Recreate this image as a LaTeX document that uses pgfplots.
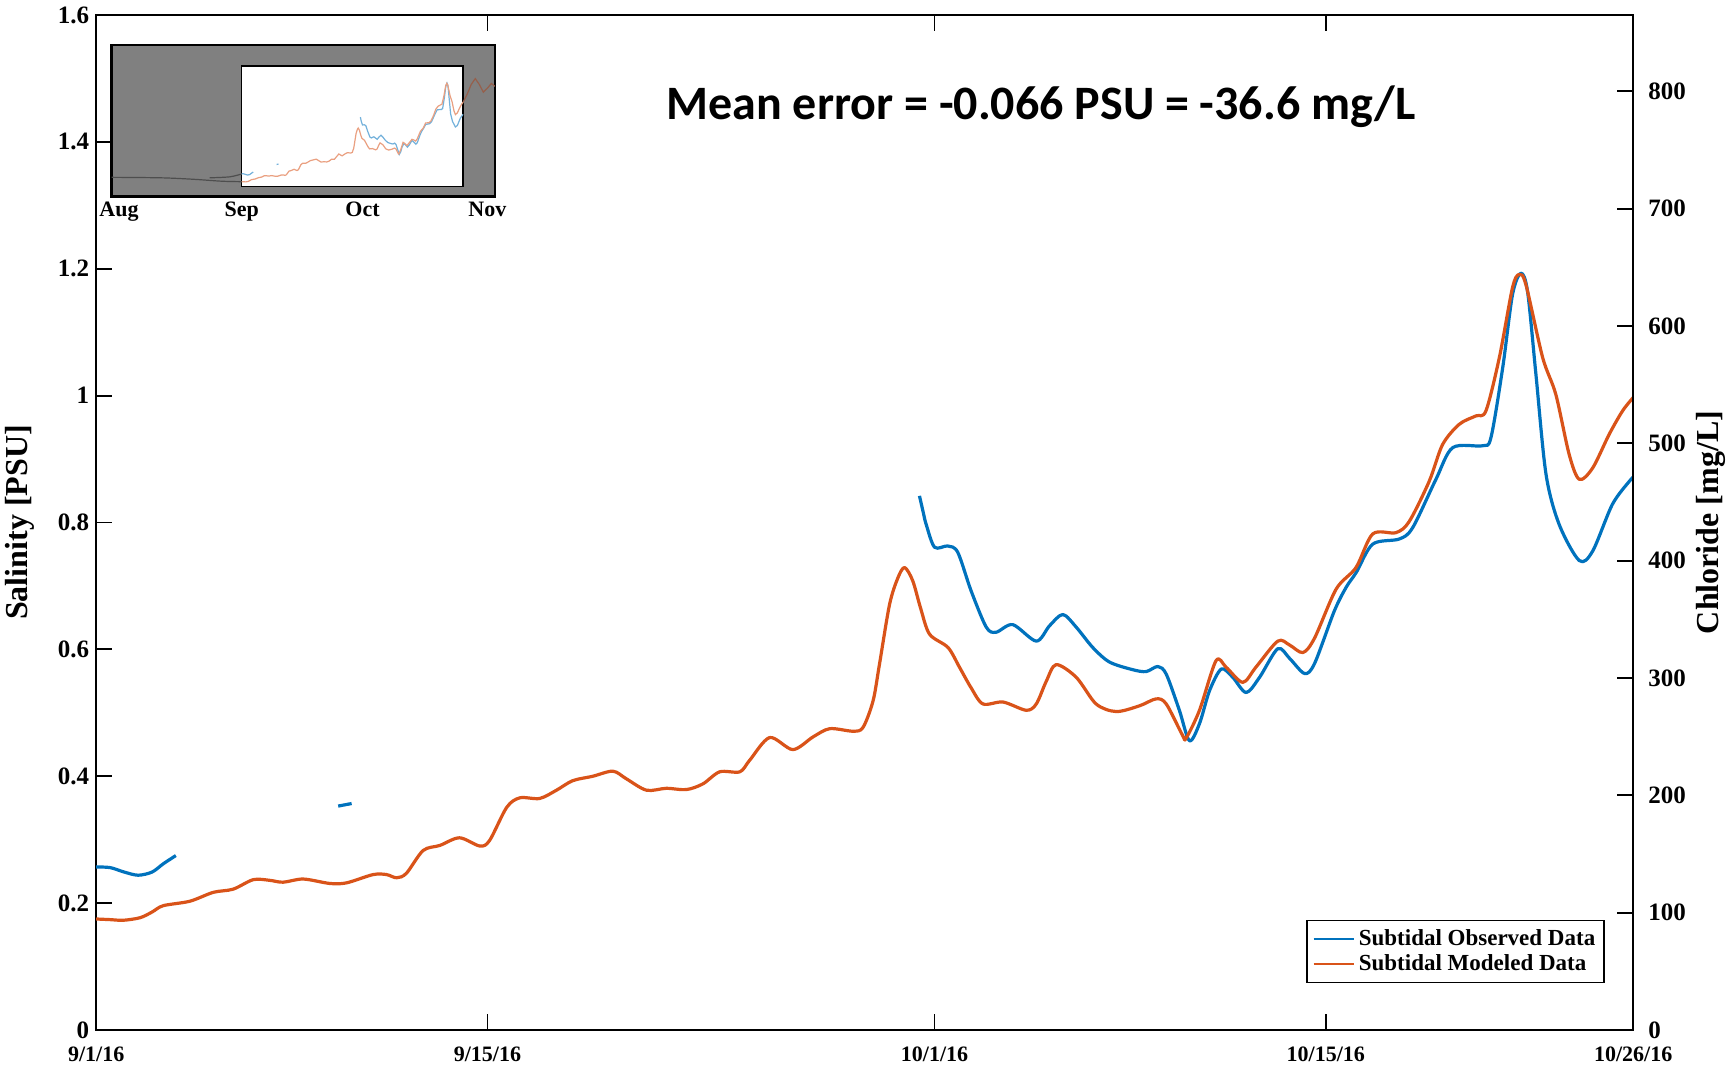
\documentclass[border=0pt]{standalone}
\usepackage{pgfplots}
\pgfplotsset{compat=1.18}
\usepackage{pgfplotstable}
\usepackage{fontspec}
\setmainfont{Liberation Serif}
\newfontfamily\calib{Carlito}

\definecolor{obsblue}{RGB}{0,114,189}
\definecolor{modorange}{RGB}{217,83,25}
\definecolor{insetgray}{RGB}{128,128,128}
\definecolor{shadedline}{RGB}{78,78,78}
\definecolor{shadedorange}{RGB}{150,95,75}

% day = days since 9/1/16, sal = salinity in PSU
\pgfplotstableread{
day sal
0.00 0.257
0.50 0.256
1.00 0.249
1.50 0.244
2.00 0.249
2.40 0.262
2.85 0.275
2.90 nan
8.66 0.353
9.14 0.357
9.20 nan
29.46 0.842
29.60 0.815
29.70 0.797
30.00 0.761
30.47 0.763
30.83 0.753
31.31 0.692
31.85 0.635
32.20 0.627
32.80 0.639
33.64 0.613
34.11 0.637
34.59 0.655
35.07 0.635
35.66 0.603
36.26 0.580
37.09 0.568
37.57 0.565
37.99 0.573
38.29 0.561
38.76 0.504
39.12 0.456
39.48 0.483
39.84 0.535
40.26 0.569
40.67 0.556
41.15 0.532
41.63 0.556
42.28 0.601
42.70 0.586
43.24 0.562
43.60 0.578
44.30 0.660
44.73 0.698
45.10 0.722
45.68 0.766
46.63 0.774
47.11 0.792
47.94 0.868
48.54 0.918
49.61 0.921
49.91 0.934
50.33 1.044
50.68 1.159
50.98 1.193
51.22 1.164
51.52 1.033
51.88 0.876
52.35 0.797
53.07 0.740
53.55 0.755
54.26 0.829
54.92 0.868
55.00 0.870
}\observed

\pgfplotstableread{
day sal
0.00 0.175
0.50 0.174
0.97 0.173
1.57 0.177
2.00 0.186
2.40 0.196
3.35 0.203
4.19 0.217
4.90 0.222
5.62 0.237
6.20 0.236
6.69 0.233
7.41 0.238
8.36 0.231
8.96 0.232
9.91 0.245
10.39 0.245
10.75 0.240
11.10 0.247
11.70 0.283
12.30 0.291
13.00 0.303
13.73 0.290
14.08 0.299
14.69 0.351
15.16 0.366
15.87 0.365
16.47 0.378
17.05 0.393
17.77 0.400
18.49 0.408
18.97 0.396
19.69 0.378
20.40 0.381
21.12 0.379
21.71 0.388
22.31 0.407
23.03 0.407
23.38 0.425
24.10 0.461
24.93 0.442
25.65 0.462
26.25 0.475
27.08 0.471
27.44 0.477
27.80 0.519
28.03 0.577
28.39 0.671
28.69 0.713
28.93 0.729
29.22 0.708
29.50 0.665
29.82 0.624
30.48 0.603
30.89 0.572
31.30 0.540
31.73 0.514
32.45 0.517
33.28 0.504
33.64 0.514
34.00 0.550
34.35 0.576
35.07 0.556
35.78 0.514
36.50 0.502
37.33 0.511
37.93 0.522
38.29 0.514
38.88 0.464
39.00 0.460
39.48 0.504
40.07 0.582
40.43 0.572
41.03 0.548
41.50 0.572
42.28 0.613
42.70 0.607
43.18 0.595
43.60 0.618
44.37 0.695
45.08 0.729
45.68 0.782
46.51 0.784
46.99 0.802
47.70 0.865
48.18 0.923
48.78 0.955
49.37 0.968
49.73 0.976
50.21 1.060
50.68 1.170
50.92 1.191
51.16 1.175
51.76 1.060
52.23 1.002
52.71 0.907
53.07 0.868
53.55 0.886
54.14 0.939
54.62 0.976
55.00 0.997
}\modeled

% overview only: August and early November
\pgfplotstableread{
day sal
-32.3 0.220
-20.0 0.215
-12.0 0.200
-5.0 0.180
0.0 0.175
}\augmodeled
\pgfplotstableread{
day sal
-8.0 0.215
-3.0 0.225
0.0 0.255
}\augobserved
\pgfplotstableread{
day sal
55.0 0.997
56.0 1.080
57.0 1.180
58.0 1.240
59.0 1.180
60.0 1.100
61.0 1.140
62.0 1.190
62.9 1.160
}\novmodeled

\newcommand\tickfont{\bfseries\fontsize{12.5}{13}\selectfont}
\newcommand\xtickfont{\bfseries\fontsize{11}{12}\selectfont}
\newcommand\labfont{\bfseries\fontsize{16}{18}\selectfont}

\begin{document}
\begin{tikzpicture}
\useasboundingbox (-48.1pt,-21.5pt) rectangle (818.4pt,515pt);

% salinity axis
\begin{axis}[
  at={(0,0)}, anchor=south west,
  scale only axis, width=768.5pt, height=507.5pt,
  xmin=0, xmax=55, ymin=0, ymax=1.6,
  xtick={0,14,30,44,55},
  xticklabels={9/1/16,9/15/16,10/1/16,10/15/16,10/26/16},
  ytick={0,0.2,0.4,0.6,0.8,1,1.2,1.4,1.6},
  xtick pos=both, ytick pos=left,
  tick align=inside, major tick length=8pt,
  tick style={black, line width=0.9pt},
  axis line style={line width=0.9pt},
  /pgf/number format/assume math mode=true,
  yticklabel style={font=\tickfont},
  xticklabel style={font=\xtickfont, yshift=-5pt},
  ylabel={Salinity [PSU]},
  every axis y label/.style={at={(axis description cs:-0.0495,0.5)}, rotate=90, anchor=center, font=\labfont},
  unbounded coords=jump,
  legend style={at={(0.9817,0.046)}, anchor=south east, draw=black, line width=0.8pt,
    font=\bfseries\fontsize{11.5}{12}\selectfont, inner sep=2.5pt, row sep=-1pt,
    cells={anchor=west}},
  legend image code/.code={\draw[#1, line width=1.3pt] (0pt,0pt) -- (20pt,0pt);},
]
\addplot[obsblue, line width=1.6pt, line join=round, smooth, tension=0.5] table[x=day, y=sal] {\observed};
\addlegendentry{Subtidal Observed Data}
\addplot[modorange, line width=1.6pt, line join=round, smooth, tension=0.5] table[x=day, y=sal] {\modeled};
\addlegendentry{Subtidal Modeled Data}
\end{axis}

% chloride axis
\begin{axis}[
  at={(0,0)}, anchor=south west,
  scale only axis, width=768.5pt, height=507.5pt,
  xmin=0, xmax=55, ymin=0, ymax=865,
  hide x axis, axis y line*=right,
  ytick={0,100,...,800},
  tick align=inside, major tick length=8pt,
  tick style={black, line width=0.9pt},
  axis line style={line width=0.9pt},
  /pgf/number format/assume math mode=true,
  ticklabel style={font=\tickfont},
  yticklabel style={xshift=4pt},
  ylabel={Chloride [mg/L]},
  every axis y label/.style={at={(axis description cs:1.0506,0.5)}, rotate=90, anchor=center, font=\labfont},
]
\end{axis}

% overview of the whole record
\begin{axis}[
  at={(7.75pt,416.65pt)}, anchor=south west,
  scale only axis, width=191.65pt, height=75.85pt,
  xmin=-32.3, xmax=62.9, ymin=0.02, ymax=1.587,
  axis background/.style={fill=insetgray},
  xtick={-30.5,0,30,61}, xticklabels={Aug,Sep,Oct,Nov},
  ytick=\empty, major tick length=0pt,
  axis line style={line width=1.3pt},
  ticklabel style={font=\xtickfont},
  xticklabel style={yshift=1pt},
  unbounded coords=jump,
]
\fill[white] (axis cs:0,0.124) rectangle (axis cs:55,1.37);
\draw[black, line width=0.7pt] (axis cs:0,0.124) rectangle (axis cs:55,1.37);
\addplot[shadedline, line width=0.6pt, smooth] table[x=day, y=sal] {\augmodeled};
\addplot[shadedline, line width=0.6pt, smooth] table[x=day, y=sal] {\augobserved};
\addplot[shadedorange, line width=0.6pt] table[x=day, y=sal] {\novmodeled};
\addplot[obsblue!55!white, line width=0.6pt] table[x=day, y=sal] {\observed};
\addplot[modorange!55!white, line width=0.6pt] table[x=day, y=sal] {\modeled};
\end{axis}

\node[font=\calib\bfseries\fontsize{24}{28}\selectfont] at (472.4pt,461.5pt)
  {Mean error = -0.066 PSU = -36.6 mg/L};
\end{tikzpicture}
\end{document}
